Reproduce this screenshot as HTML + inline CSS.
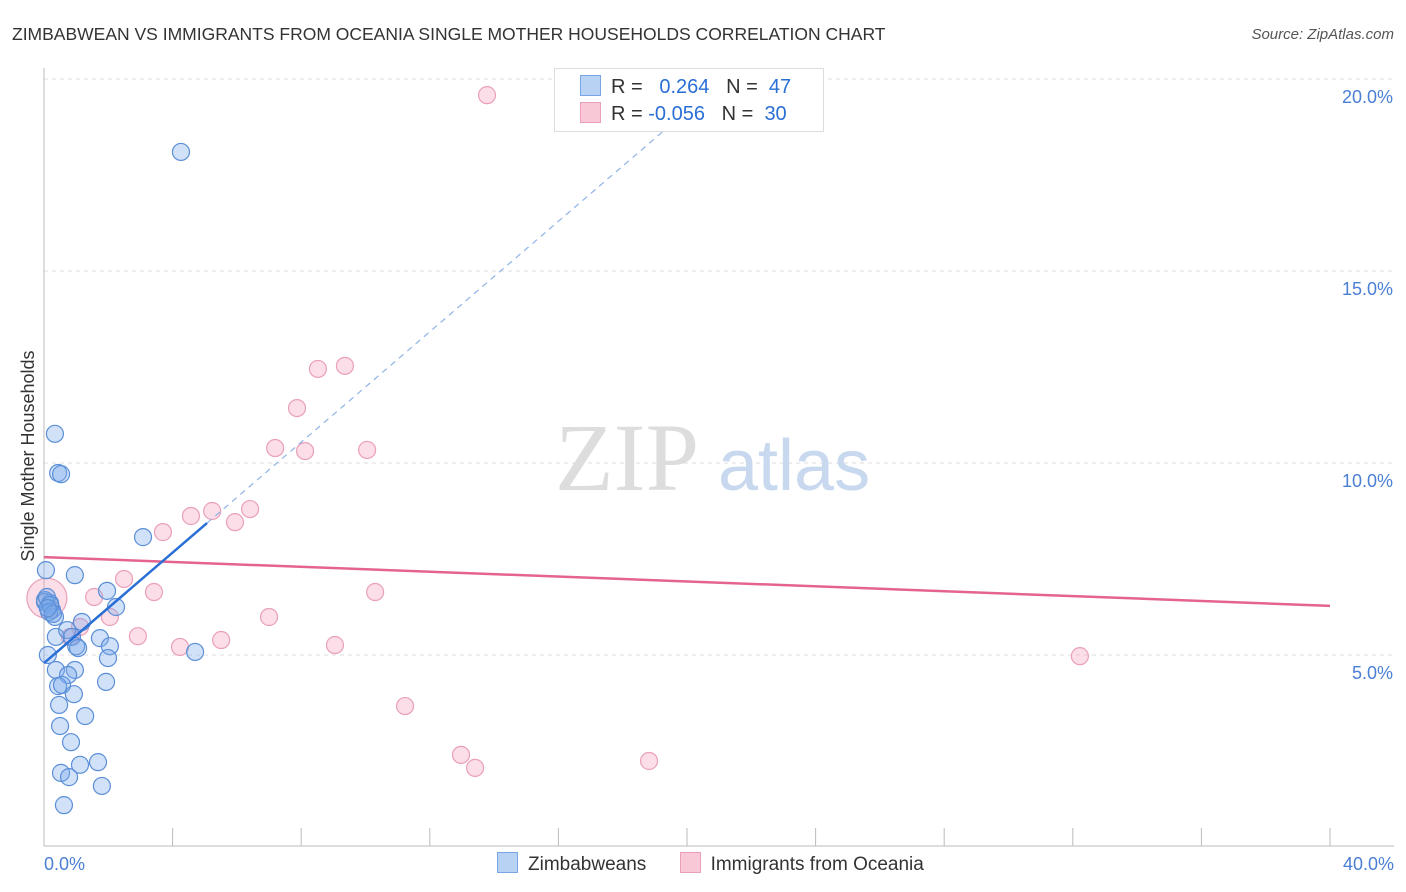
<!DOCTYPE html>
<html><head><meta charset="utf-8"><style>
body{margin:0;background:#fff;font-family:"Liberation Sans",sans-serif}
</style></head><body>
<svg width="1406" height="892" style="display:block">
<g id="grid"></g><g id="marks"></g>
</svg>
<script>
const xTicksLbl=["0.0%","40.0%"];
const yTicks=[5,10,15,20];
const blueX=[4.26,0.34,0.44,0.53,3.08,0.06,0.96,1.96,2.24,0.03,0.19,0.25,0.34,0.37,0.72,1.18,0.87,1.00,1.06,1.74,2.05,1.99,4.70,0.12,0.37,0.96,0.75,0.44,0.56,0.93,1.93,0.47,1.28,0.50,0.84,0.53,0.78,1.12,1.68,1.80,0.62,0.03,0.09,0.19,0.16,0.28,0.12];
const blueY=[18.10,10.76,9.74,9.71,8.07,7.21,7.08,6.67,6.25,6.43,6.35,6.17,5.99,5.47,5.65,5.86,5.47,5.23,5.18,5.44,5.23,4.92,5.08,5.00,4.61,4.61,4.48,4.19,4.22,3.98,4.30,3.70,3.41,3.15,2.73,1.93,1.82,2.14,2.21,1.59,1.09,6.38,6.51,6.30,6.12,6.07,6.22];
const pinkX=[13.78,9.36,8.52,7.87,7.19,8.12,10.05,5.23,6.41,4.57,5.94,3.70,2.49,3.42,1.56,10.30,2.05,7.00,1.12,2.92,5.51,4.23,9.05,32.22,11.23,12.97,13.41,18.82,0.09,0.81];
const pinkY=[19.58,12.53,12.45,11.43,10.39,10.31,10.34,8.75,8.80,8.62,8.46,8.20,6.98,6.64,6.51,6.64,5.99,5.99,5.73,5.49,5.39,5.21,5.26,4.97,3.67,2.40,2.06,2.24,6.48,5.47];
const blueTrend=[4.79,0.719];
const pinkTrend=[7.55,6.28];
const NS="http://www.w3.org/2000/svg";
const X=v=>44+v*32.15, Y=v=>847-v*38.4;
const svg=document.querySelector('svg'),grid=document.getElementById('grid'),marks=document.getElementById('marks');
function mk(tag,at,parent,txt){const e=document.createElementNS(NS,tag);for(const k in at)e.setAttribute(k,at[k]);if(txt!==undefined)e.textContent=txt;parent.appendChild(e);return e;}
// title
let t=mk('text',{x:12,y:40,'font-size':17.5,fill:'#333'},svg,"ZIMBABWEAN VS IMMIGRANTS FROM OCEANIA SINGLE MOTHER HOUSEHOLDS CORRELATION CHART");


t=mk('text',{x:1394,y:39,'font-size':15,fill:'#555','text-anchor':'end','font-style':'italic'},svg,"Source: ZipAtlas.com");


// watermark
t=mk('text',{x:555,y:490,'font-size':96,fill:'#ddd','font-family':'Liberation Serif,serif'},svg,"ZIP");


t=mk('text',{x:718,y:490,'font-size':72,fill:'#c8d8ee'},svg,"atlas");


// grid & y ticks
yTicks.forEach(v=>{
 const l=mk('line',{x1:44,x2:1394,y1:Y(v),y2:Y(v),stroke:'#ddd','stroke-dasharray':'4,4'},grid);
 
 
 const tt=mk('text',{x:1393,y:Y(v)+24,'font-size':18,fill:'#4a7fd4','text-anchor':'end'},grid,v.toFixed(1)+"%");
 
 
});
let a=mk('line',{x1:44,x2:44,y1:68,y2:846,stroke:'#bbb'},grid);


a=mk('line',{x1:44,x2:1394,y1:846,y2:846,stroke:'#bbb'},grid);


for(let i=0;i<=10;i++){const tk=mk('line',{x1:X(i*4),x2:X(i*4),y1:828,y2:846,stroke:'#bbb'},grid);
 
 }
t=mk('text',{x:44,y:870,'font-size':18,fill:'#4a7fd4'},svg,xTicksLbl[0]);


t=mk('text',{x:1394,y:870,'font-size':18,fill:'#4a7fd4','text-anchor':'end'},svg,xTicksLbl[1]);


t=mk('text',{x:34,y:456,'font-size':18,fill:'#333','text-anchor':'middle',transform:'rotate(-90 34 456)'},svg,"Single Mother Households");


// points
pinkX.forEach((x,i)=>{const c=mk('circle',{cx:X(x),cy:Y(pinkY[i]),r:i==28?20:8.5,fill:'rgba(244,160,185,0.35)',stroke:'#eaa0b8','stroke-width':1.2},marks);
 
 });
blueX.forEach((x,i)=>{const c=mk('circle',{cx:X(x),cy:Y(blueY[i]),r:8.5,fill:'rgba(120,170,235,0.35)',stroke:'#5b8fd8','stroke-width':1.2},marks);
 
 });
// trends
let ln=mk('line',{x1:X(0),y1:Y(pinkTrend[0]),x2:X(40),y2:Y(pinkTrend[1]),stroke:'#e4648f','stroke-width':2.5},marks);


const by=x=>blueTrend[0]+blueTrend[1]*x;
ln=mk('line',{x1:X(0),y1:Y(by(0)),x2:X(5.07),y2:Y(by(5.07)),stroke:'#2a6fd6','stroke-width':2.5},marks);


ln=mk('line',{x1:X(5.07),y1:Y(by(5.07)),x2:X(19.8),y2:Y(by(19.8)),stroke:'#8fb3e6','stroke-width':1.2,'stroke-dasharray':'6,5'},marks);


</script>
<div style="position:absolute;left:554px;top:68px;width:268px;height:62px;border:1px solid #ddd;background:#fff;font-size:20px;color:#333">
 <div style="position:absolute;left:25px;top:6px;white-space:nowrap"><span style="display:inline-block;width:19px;height:19px;background:#b8d2f4;border:1px solid #7aa6e6;vertical-align:-3px;margin-right:10px"></span>R = &nbsp;<span style="color:#2a6fd6">&nbsp;0.264</span>&nbsp;&nbsp;&nbsp;N = &nbsp;<span style="color:#2a6fd6">47</span></div>
 <div style="position:absolute;left:25px;top:33px;white-space:nowrap"><span style="display:inline-block;width:19px;height:19px;background:#f9c8d7;border:1px solid #eaa0b8;vertical-align:-3px;margin-right:10px"></span>R = <span style="color:#2a6fd6">-0.056</span>&nbsp;&nbsp;&nbsp;N = &nbsp;<span style="color:#2a6fd6">30</span></div>
</div>
<div style="position:absolute;left:497px;top:852px;font-size:19px;color:#333;white-space:nowrap">
 <span><span style="display:inline-block;width:19px;height:19px;background:#b8d2f4;border:1px solid #7aa6e6;vertical-align:-3px;margin-right:10px"></span>Zimbabweans</span>
 <span style="margin-left:28px"><span style="display:inline-block;width:19px;height:19px;background:#f9c8d7;border:1px solid #eaa0b8;vertical-align:-3px;margin-right:10px"></span>Immigrants from Oceania</span>
</div>
</body></html>
